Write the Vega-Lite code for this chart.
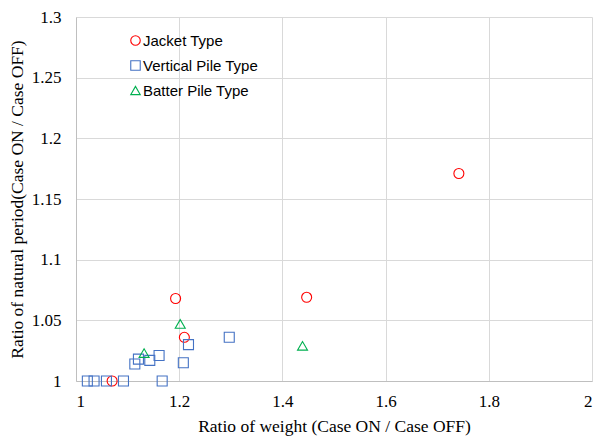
{
  "$schema": "https://vega.github.io/schema/vega-lite/v6.json",
  "width": 516,
  "height": 364,
  "autosize": "none",
  "padding": {"left": 76, "top": 17, "right": 6, "bottom": 57},
  "background": "white",
  "config": {"view": {"stroke": null}},
  "data": {
    "values": [
      {"type": "Jacket Type", "w": 1.070, "p": 1.000},
      {"type": "Jacket Type", "w": 1.193, "p": 1.068},
      {"type": "Jacket Type", "w": 1.210, "p": 1.036},
      {"type": "Jacket Type", "w": 1.447, "p": 1.069},
      {"type": "Jacket Type", "w": 1.742, "p": 1.171},
      {"type": "Vertical Pile Type", "w": 1.022, "p": 1.000},
      {"type": "Vertical Pile Type", "w": 1.035, "p": 1.000},
      {"type": "Vertical Pile Type", "w": 1.059, "p": 1.000},
      {"type": "Vertical Pile Type", "w": 1.092, "p": 1.000},
      {"type": "Vertical Pile Type", "w": 1.167, "p": 1.000},
      {"type": "Vertical Pile Type", "w": 1.114, "p": 1.014},
      {"type": "Vertical Pile Type", "w": 1.121, "p": 1.018},
      {"type": "Vertical Pile Type", "w": 1.143, "p": 1.017},
      {"type": "Vertical Pile Type", "w": 1.161, "p": 1.021},
      {"type": "Vertical Pile Type", "w": 1.208, "p": 1.015},
      {"type": "Vertical Pile Type", "w": 1.218, "p": 1.030},
      {"type": "Vertical Pile Type", "w": 1.297, "p": 1.036},
      {"type": "Batter Pile Type", "w": 1.132, "p": 1.023},
      {"type": "Batter Pile Type", "w": 1.202, "p": 1.047},
      {"type": "Batter Pile Type", "w": 1.439, "p": 1.029}
    ]
  },
  "mark": {"type": "point", "filled": false, "strokeWidth": 1.1, "size": 100, "opacity": 1},
  "encoding": {
    "x": {
      "field": "w", "type": "quantitative",
      "scale": {"domain": [1, 2], "nice": false, "zero": false},
      "axis": {
        "title": "Ratio of weight (Case ON / Case OFF)",
        "values": [1, 1.2, 1.4, 1.6, 1.8, 2],
        "format": "~g",
        "labelFont": "Liberation Serif", "labelFontSize": 17, "labelColor": "#000",
        "titleFont": "Liberation Serif", "titleFontSize": 17.5, "titleFontWeight": "normal", "titleColor": "#000",
        "labelPadding": 12, "titlePadding": 8,
        "ticks": false, "domainColor": "#bfbfbf", "gridColor": "#d9d9d9", "grid": true
      }
    },
    "y": {
      "field": "p", "type": "quantitative",
      "scale": {"domain": [1, 1.3], "nice": false, "zero": false},
      "axis": {
        "title": "Ratio of natural period(Case ON / Case OFF)",
        "values": [1, 1.05, 1.1, 1.15, 1.2, 1.25, 1.3],
        "format": "~g",
        "labelFont": "Liberation Serif", "labelFontSize": 17, "labelColor": "#000",
        "titleFont": "Liberation Serif", "titleFontSize": 17.5, "titleFontWeight": "normal", "titleColor": "#000",
        "labelPadding": 15, "titlePadding": 5,
        "ticks": false, "domainColor": "#bfbfbf", "gridColor": "#d9d9d9", "grid": true
      }
    },
    "color": {
      "field": "type", "type": "nominal",
      "scale": {"domain": ["Jacket Type", "Vertical Pile Type", "Batter Pile Type"], "range": ["#ff0000", "#4472c4", "#00b050"]},
      "legend": {
        "title": null, "orient": "none", "legendX": 52, "legendY": 16,
        "labelFont": "Liberation Sans", "labelFontSize": 15, "labelColor": "#000",
        "rowPadding": 9, "symbolSize": 90, "symbolStrokeWidth": 1.1, "labelOffset": 0,
        "symbolFillColor": "transparent"
      }
    },
    "shape": {
      "field": "type", "type": "nominal",
      "scale": {"domain": ["Jacket Type", "Vertical Pile Type", "Batter Pile Type"], "range": ["circle", "square", "triangle-up"]},
      "legend": null
    }
  }
}
